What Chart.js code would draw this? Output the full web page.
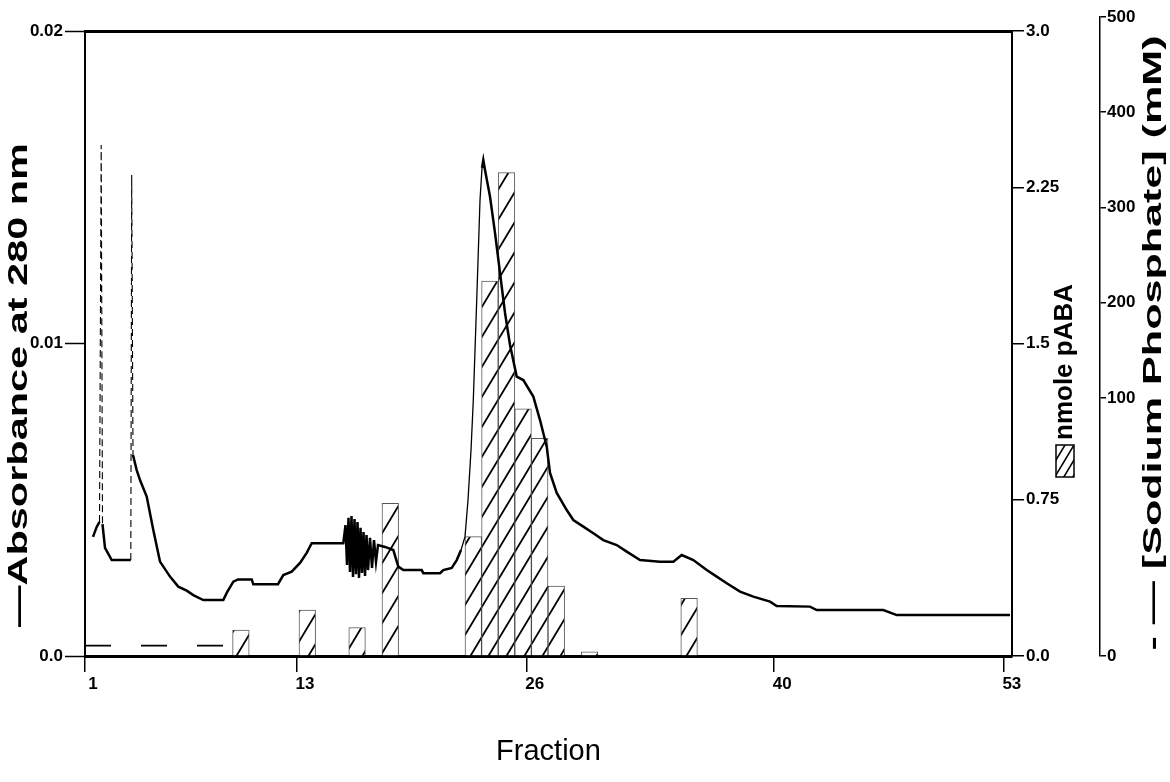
<!DOCTYPE html>
<html><head><meta charset="utf-8">
<script src="https://cdn.jsdelivr.net/npm/chart.js@4.4.1/dist/chart.umd.min.js"></script>
<style>html,body{margin:0;padding:0;background:#fff;}#wrap{width:1170px;height:782px;position:relative;}</style>
</head><body><div id="wrap"><canvas id="c"></canvas></div>
<script>
// ---- data ----
const absFraction = [1.453,1.662,1.821,1.917,1.990,2.132,2.511,3.592,3.643,3.716,3.926,4.113,4.492,4.865,5.244,5.810,6.280,6.755,7.129,7.695,8.827,9.019,9.393,9.659,10.434,10.525,11.922,12.222,12.698,13.168,13.547,13.830,15.618,15.742,15.827,15.912,15.997,16.082,16.167,16.252,16.337,16.422,16.506,16.591,16.676,16.761,16.846,16.931,17.016,17.129,17.242,17.355,17.468,17.582,17.978,18.448,18.731,19.014,20.055,20.146,21.091,21.278,21.753,22.036,22.279,22.505,22.675,22.845,22.975,23.168,23.354,23.468,23.541,23.637,23.920,24.203,24.486,24.769,25.052,25.431,25.805,26.371,26.750,27.129,27.316,27.695,28.261,28.635,29.200,29.766,30.332,31.090,31.656,32.409,33.541,34.294,34.769,35.426,36.184,36.750,37.316,38.069,38.822,39.766,40.145,42.030,42.409,46.178,46.937,53.348];
const absValue = [0.00381,0.00413,0.00429,0.01635,0.00422,0.00346,0.00307,0.00307,0.01539,0.00643,0.00595,0.00563,0.00510,0.00403,0.00302,0.00254,0.00222,0.00209,0.00195,0.00179,0.00179,0.00202,0.00238,0.00245,0.00245,0.00230,0.00230,0.00259,0.00270,0.00298,0.00330,0.00361,0.00361,0.00419,0.00291,0.00442,0.00269,0.00448,0.00253,0.00438,0.00262,0.00429,0.00250,0.00410,0.00266,0.00397,0.00256,0.00387,0.00275,0.00378,0.00282,0.00371,0.00301,0.00355,0.00349,0.00339,0.00286,0.00275,0.00275,0.00265,0.00265,0.00275,0.00282,0.00307,0.00339,0.00382,0.00499,0.00659,0.00819,0.01139,0.01459,0.01562,0.01587,0.01555,0.01470,0.01354,0.01226,0.01098,0.00995,0.00894,0.00883,0.00830,0.00755,0.00670,0.00586,0.00522,0.00467,0.00435,0.00414,0.00393,0.00371,0.00355,0.00334,0.00307,0.00302,0.00302,0.00323,0.00307,0.00275,0.00254,0.00233,0.00206,0.00190,0.00174,0.00160,0.00158,0.00147,0.00147,0.00131,0.00131];
const pabaFraction = [9,13,16,18,23,24,25,26,27,28,30,36];
const pabaNmole = [0.125,0.22,0.136,0.733,0.573,1.80,2.32,1.186,1.045,0.336,0.02,0.277];
const phosFraction = [1,9];
const phosMM = [4,4];
const fractionTicks = [1,13,26,40,53];
const absTicks = [0,0.01,0.02];
const absTickLabels = ['0.0','0.01','0.02'];
const pabaTicks = [0,0.75,1.5,2.25,3.0];
const pabaTickLabels = ['0.0','0.75','1.5','2.25','3.0'];
const phosTicks = [0,100,200,300,400,500];

// ---- piecewise (broken) linear scale for the phosphate axis ----
class BrokenLinearScale extends Chart.LinearScale {
  configure() {
    super.configure();
    const ext = this.options.extendTop || 0;
    this._startPixel -= ext;
    this._length += ext;
  }
  drawBorder() {
    const t = this.top;
    this.top = this._startPixel;
    super.drawBorder();
    this.top = t;
  }
  getPixelForValue(value) {
    if (value === null || value === undefined || isNaN(value)) return NaN;
    const b = this.options.brk;
    let dec;
    if (value <= b.value) dec = (value - this.min) / (b.value - this.min) * b.decimal;
    else dec = b.decimal + (value - b.value) / (this.max - b.value) * (1 - b.decimal);
    return this.getPixelForDecimal(dec);
  }
  getValueForPixel(pixel) {
    const b = this.options.brk;
    const dec = this.getDecimalForPixel(pixel);
    if (dec <= b.decimal) return this.min + dec / b.decimal * (b.value - this.min);
    return b.value + (dec - b.decimal) / (1 - b.decimal) * (this.max - b.value);
  }
}
BrokenLinearScale.id = 'brokenLinear';
BrokenLinearScale.defaults = Chart.LinearScale.defaults;
Chart.register(BrokenLinearScale);

const canvas = document.getElementById('c');
const ctx0 = canvas.getContext('2d');
function makeHatch(w, h, lw) {
  const c = document.createElement('canvas'); c.width = w; c.height = h;
  const g = c.getContext('2d');
  g.fillStyle = '#fff'; g.fillRect(0, 0, w, h);
  g.strokeStyle = '#000'; g.lineWidth = lw;
  g.beginPath();
  g.moveTo(-w, h); g.lineTo(w, -h);
  g.moveTo(0, h); g.lineTo(w, 0);
  g.moveTo(0, 2 * h); g.lineTo(2 * w, 0);
  g.stroke();
  return ctx0.createPattern(c, 'repeat');
}
const hatch = makeHatch(18, 30, 1.8);
const boxHatch = makeHatch(9, 15, 1.6);

const verticalTitles = {
  id: 'verticalTitles',
  afterDraw(chart, args, opts) {
    const ctx = chart.ctx;
    opts.items.forEach(it => {
      const text = chart.scales[it.axis].options.title.text;
      ctx.save();
      ctx.font = it.font;
      ctx.fillStyle = '#000';
      const w = ctx.measureText(text).width;
      ctx.translate(it.x, it.cy);
      ctx.rotate(-Math.PI / 2);
      ctx.scale(it.length / w, 1);
      ctx.textAlign = 'center';
      ctx.textBaseline = 'alphabetic';
      ctx.fillText(text, 0, 0);
      ctx.restore();
      if (it.box) {
        ctx.save();
        ctx.fillStyle = boxHatch;
        ctx.fillRect(it.box.x, it.box.y, it.box.w, it.box.h);
        ctx.strokeStyle = '#000';
        ctx.lineWidth = 1.5;
        ctx.strokeRect(it.box.x, it.box.y, it.box.w, it.box.h);
        ctx.restore();
      }
    });
  }
};

const tickFont = {family: '"Liberation Sans Narrow", "Liberation Sans", sans-serif', size: 17, weight: 'bold'};
const thin = 1.1;

new Chart(canvas, {
  type: 'line',
  data: {
    datasets: [
      {
        type: 'line', label: 'Absorbance at 280 nm', xAxisID: 'x', yAxisID: 'y',
        data: absFraction.map((f, i) => ({x: f, y: absValue[i]})),
        borderColor: '#000', borderWidth: 2.5, pointRadius: 0, tension: 0, fill: false, order: 0,
        segment: {
          borderWidth: c => {
            const a = c.p0.parsed, b = c.p1.parsed;
            if (a.x < 5 && (a.y > 0.008 || b.y > 0.008)) return thin;
            if (a.x >= 22.2 && b.x <= 23.5) return 1.3;
            return undefined;
          },
          borderDash: c => {
            const a = c.p0.parsed, b = c.p1.parsed;
            if (a.x < 5 && (a.y > 0.008 || b.y > 0.008)) return [7, 4];
            return undefined;
          }
        }
      },
      {
        type: 'line', label: '[Sodium Phosphate] (mM)', xAxisID: 'x', yAxisID: 'y3',
        data: phosFraction.map((f, i) => ({x: f, y: phosMM[i]})),
        borderColor: '#000', borderWidth: 1.8, borderDash: [26, 30], pointRadius: 0, fill: false, order: 1
      },
      {
        type: 'bar', label: 'nmole pABA', xAxisID: 'x2', yAxisID: 'yR',
        data: pabaFraction.map((f, i) => ({x: f, y: pabaNmole[i]})),
        backgroundColor: hatch, borderColor: 'rgba(0,0,0,0.65)', borderWidth: 1,
        barPercentage: 1, categoryPercentage: 1, grouped: false, order: 2
      }
    ]
  },
  options: {
    responsive: true, maintainAspectRatio: false, animation: false, devicePixelRatio: 1,
    layout: {padding: {top: 31, left: 0, right: 0, bottom: 0}},
    plugins: {
      legend: {display: false}, tooltip: {enabled: false},
      verticalTitles: {items: [
        {axis: 'y', font: 'bold 27px "Liberation Sans"', x: 27, cy: 385, length: 484},
        {axis: 'yR', font: 'bold 26px "Liberation Sans"', x: 1072, cy: 362, length: 156, box: {x: 1056, y: 445, w: 18, h: 32}},
        {axis: 'y3', font: 'bold 26px "Liberation Sans"', x: 1161, cy: 343, length: 615}
      ]}
    },
    scales: {
      x: {
        type: 'linear', position: 'bottom', min: 1, max: 53.46, offset: false,
        afterBuildTicks: s => { s.ticks = fractionTicks.map(v => ({value: v})); },
        afterFit: s => { s.height = 126; },
        ticks: {font: tickFont, color: '#000', labelOffset: 8, padding: 2, maxRotation: 0, autoSkip: false, callback: v => String(v)},
        grid: {display: true, drawOnChartArea: false, drawTicks: true, tickLength: 16, color: '#000', lineWidth: 1.5},
        border: {display: true, color: '#000', width: 3},
        title: {display: true, text: 'Fraction', color: '#000', font: {family: '"Liberation Sans Narrow", "Liberation Sans", sans-serif', size: 29}, padding: {top: 0, bottom: 13}}
      },
      x2: {
        type: 'linear', display: false, min: -0.39, max: 55.45, offset: false, grid: {offset: false},
        afterBuildTicks: s => { s.ticks = pabaFraction.map(v => ({value: v})); }
      },
      y: {
        type: 'linear', position: 'left', min: 0, max: 0.02,
        afterBuildTicks: s => { s.ticks = absTicks.map(v => ({value: v})); },
        afterFit: s => { s.width = 85; },
        ticks: {font: tickFont, color: '#000', padding: 2, callback: v => absTickLabels[absTicks.indexOf(v)]},
        grid: {
          drawOnChartArea: true, drawTicks: true, tickLength: 20, tickColor: '#000', tickWidth: 1.5,
          color: c => (c.tick && c.tick.value === 0.02) ? '#000' : 'rgba(0,0,0,0)',
          lineWidth: c => (c.tick && c.tick.value === 0.02) ? 3 : 1
        },
        border: {display: true, color: '#000', width: 2},
        title: {display: false, text: '—Absorbance at 280 nm'}
      },
      yR: {
        type: 'linear', position: 'right', min: 0, max: 3,
        afterBuildTicks: s => { s.ticks = pabaTicks.map(v => ({value: v})); },
        afterFit: s => { s.width = 88; },
        ticks: {font: tickFont, color: '#000', padding: 2, callback: v => pabaTickLabels[pabaTicks.indexOf(v)]},
        grid: {drawOnChartArea: false, drawTicks: true, tickLength: 12, color: '#000', lineWidth: 1.5},
        border: {display: true, color: '#000', width: 2},
        title: {display: false, text: 'nmole pABA'}
      },
      y3: {
        type: 'brokenLinear', position: 'right', min: 0, max: 500, extendTop: 14, brk: {value: 100, decimal: 0.4038},
        afterBuildTicks: s => { s.ticks = phosTicks.map(v => ({value: v})); },
        afterFit: s => { s.width = 70; },
        ticks: {font: tickFont, color: '#000', padding: 1, callback: v => String(v)},
        grid: {drawOnChartArea: false, drawTicks: true, tickLength: 6, color: '#000', lineWidth: 1.5},
        border: {display: true, color: '#000', width: 1.5},
        title: {display: false, text: '- — [Sodium Phosphate] (mM)'}
      }
    }
  },
  plugins: [verticalTitles]
});
</script>
</body></html>
